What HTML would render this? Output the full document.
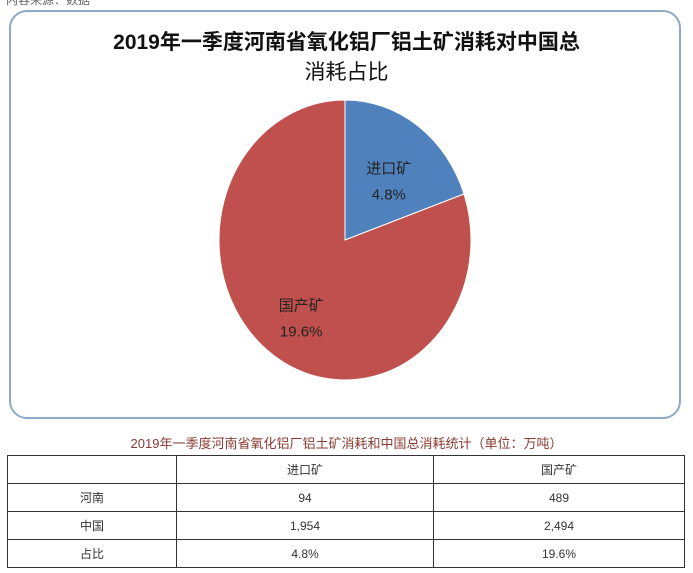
<!DOCTYPE html>
<html><head><meta charset="utf-8"><style>
body{margin:0;width:693px;height:573px;background:#fff;font-family:"Liberation Sans","Noto Sans CJK SC",sans-serif;position:relative;overflow:hidden}
#chart{position:absolute;left:9px;top:10px;width:672px;height:409px;border:2px solid #8ea9c6;border-radius:18px;box-sizing:border-box}
.t{position:absolute;left:0;width:693px;text-align:center}
table{position:absolute;left:7px;top:455px;width:678px;border-collapse:collapse;font-size:12px;color:#333}
td{border:1px solid #333;height:27px;text-align:center;padding:0}
</style></head><body>
<div class="t" style="top:-9px;left:6px;width:auto;font-size:12px;color:#666">内容来源：数据</div>
<div id="chart"></div>
<div class="t" style="top:28px;font-size:21px;font-weight:bold;line-height:30px;color:#111">2019年一季度河南省氧化铝厂铝土矿消耗对中国总<br><span style="font-weight:normal">消耗占比</span></div>
<svg id="pie" width="693" height="573" style="position:absolute;left:0;top:0"></svg>
<div class="t" style="top:433px;font-size:13px;color:#8a3b32">2019年一季度河南省氧化铝厂铝土矿消耗和中国总消耗统计（单位：万吨）</div>
<table>
<tr><td style="width:168px"></td><td style="width:256px">进口矿</td><td>国产矿</td></tr>
<tr><td>河南</td><td>94</td><td>489</td></tr>
<tr><td>中国</td><td>1,954</td><td>2,494</td></tr>
<tr><td>占比</td><td>4.8%</td><td>19.6%</td></tr>
</table>
<script>
const categories=["进口矿","国产矿"];
const values=[4.8,19.6];
const valueLabels=["4.8%","19.6%"];
const colors=["#4f81bd","#c0504d"];
const svg=document.getElementById('pie');
const cx=345,cy=240,rx=126,ry=140,NS="http://www.w3.org/2000/svg";
const total=values.reduce((a,b)=>a+b,0);
let a0=0;
values.forEach((v,i)=>{
  const a1=a0+v/total*2*Math.PI;
  const p=(a)=>[cx+rx*Math.sin(a),cy-ry*Math.cos(a)];
  const [x0,y0]=p(a0),[x1,y1]=p(a1);
  const path=document.createElementNS(NS,'path');
  path.setAttribute('d',`M${cx},${cy}L${x0},${y0}A${rx},${ry} 0 ${a1-a0>Math.PI?1:0} 1 ${x1},${y1}Z`);
  path.setAttribute('fill',colors[i]);
  path.setAttribute('stroke','#fff');
  
  
  svg.appendChild(path);
  const mid=(a0+a1)/2;
  const lx=cx+rx*0.6*Math.sin(mid), ly=cy-ry*0.6*Math.cos(mid);
  [categories[i],valueLabels[i]].forEach((s,j)=>{
    const t=document.createElementNS(NS,'text');
    t.setAttribute('x',lx);t.setAttribute('y',ly+2+j*26);
    t.setAttribute('text-anchor','middle');
    t.setAttribute('font-size','15');t.setAttribute('fill','#222');
    t.textContent=s;
    
    
    svg.appendChild(t);
  });
  a0=a1;
});
</script>
</body></html>
